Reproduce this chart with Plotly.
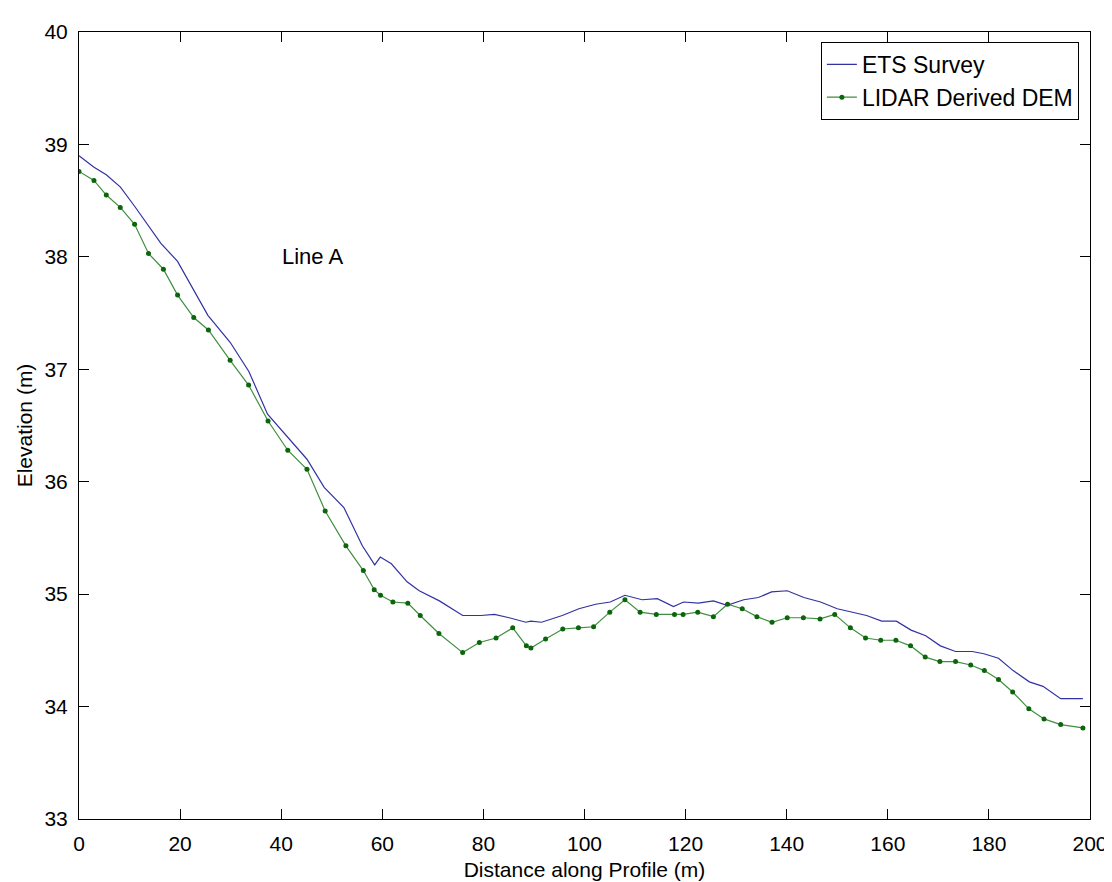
import plotly.graph_objects as go

# ETS Survey (blue line)
ets_x = [0, 2.9, 5.4, 8.2, 11.0, 16.2, 19.5, 22.7, 25.5, 29.9, 33.6, 37.3, 41.3, 45.1, 48.5,
         52.4, 56.05, 58.5, 59.6, 61.8, 64.9, 67.3, 71.3, 75.9, 79.5, 82.2, 85.1, 88.4, 89.4,
         91.5, 95.6, 98.9, 102.2, 105.1, 108.0, 111.4, 114.4, 117.6, 119.6, 122.5, 125.5,
         128.2, 131.5, 134.4, 137.0, 140.1, 143.4, 146.7, 150.0, 152.9, 155.8, 158.8, 161.7,
         164.6, 167.5, 170.4, 173.4, 176.7, 179.0, 181.9, 184.8, 188.0, 190.7, 194.2, 198.6]
ets_y = [38.90, 38.80, 38.73, 38.62, 38.45, 38.12, 37.96, 37.71, 37.48, 37.24, 36.98, 36.60,
         36.39, 36.20, 35.95, 35.77, 35.43, 35.26, 35.33, 35.27, 35.11, 35.03, 34.94, 34.81,
         34.81, 34.82, 34.79, 34.75, 34.76, 34.75, 34.81, 34.87, 34.91, 34.93, 34.99, 34.95,
         34.96, 34.89, 34.93, 34.92, 34.94, 34.90, 34.95, 34.97, 35.02, 35.03, 34.97, 34.93,
         34.87, 34.84, 34.81, 34.76, 34.76, 34.68, 34.63, 34.54, 34.49, 34.49, 34.47, 34.43,
         34.32, 34.22, 34.18, 34.07, 34.07]

# LIDAR Derived DEM (green line with dot markers)
lidar_x = [0, 2.96, 5.4, 8.16, 11.0, 13.75, 16.7, 19.5, 22.7, 25.6, 29.9, 33.55, 37.4, 41.3,
           45.1, 48.7, 52.8, 56.25, 58.4, 59.65, 62.1, 65.05, 67.5, 71.2, 75.9, 79.2, 82.5,
           85.8, 88.5, 89.4, 92.3, 95.7, 98.8, 101.8, 105.0, 108.0, 111.0, 114.2, 117.8,
           119.5, 122.4, 125.5, 128.3, 131.2, 134.1, 137.1, 140.1, 143.3, 146.6, 149.5,
           152.6, 155.6, 158.6, 161.6, 164.5, 167.4, 170.3, 173.4, 176.4, 179.1, 181.9,
           184.7, 187.9, 190.9, 194.2, 198.6]
lidar_y = [38.76, 38.68, 38.55, 38.44, 38.29, 38.03, 37.89, 37.66, 37.46, 37.35, 37.08, 36.86,
           36.54, 36.28, 36.11, 35.74, 35.43, 35.21, 35.04, 34.99, 34.93, 34.92, 34.81, 34.65,
           34.48, 34.57, 34.61, 34.70, 34.54, 34.52, 34.60, 34.69, 34.70, 34.71, 34.84, 34.95,
           34.84, 34.82, 34.82, 34.82, 34.84, 34.80, 34.91, 34.87, 34.80, 34.75, 34.79, 34.79,
           34.78, 34.82, 34.70, 34.61, 34.59, 34.59, 34.54, 34.44, 34.40, 34.40, 34.37, 34.32,
           34.24, 34.13, 33.98, 33.89, 33.84, 33.81]

x_ticks = [0, 20, 40, 60, 80, 100, 120, 140, 160, 180, 200]
y_ticks = [33, 34, 35, 36, 37, 38, 39, 40]

FONT = "Liberation Sans, Arial, Helvetica, sans-serif"

fig = go.Figure()
fig.add_trace(go.Scatter(
    x=ets_x, y=ets_y, mode="lines", name="ETS Survey",
    line=dict(color="#3232a2", width=1.2),
))
fig.add_trace(go.Scatter(
    x=lidar_x, y=lidar_y, mode="lines+markers", name="LIDAR Derived DEM",
    line=dict(color="#3f8f3f", width=1.2),
    marker=dict(color="#0b650b", size=5, symbol="circle"),
))

fig.add_annotation(x=46.2, y=38.0, text="Line A", showarrow=False,
                   font=dict(family=FONT, size=22, color="black"))

axis_common = dict(
    showgrid=False, zeroline=False, showline=True, linecolor="black", linewidth=1,
    mirror="ticks", ticks="inside", ticklen=10, tickcolor="black", tickwidth=1,
    tickfont=dict(family=FONT, size=21, color="black"),
)

fig.update_xaxes(range=[0, 200], tickvals=x_ticks, ticklabelstandoff=6,
                 title=dict(text="Distance along Profile (m)", standoff=8,
                            font=dict(family=FONT, size=21, color="black")),
                 **axis_common)
fig.update_yaxes(range=[33, 40], tickvals=y_ticks, ticklabelstandoff=6,
                 title=dict(text="Elevation (m)", standoff=6,
                            font=dict(family=FONT, size=21, color="black")),
                 **axis_common)

fig.update_layout(
    width=1112, height=882,
    margin=dict(l=71, r=25, t=15, b=66, pad=0),
    paper_bgcolor="white", plot_bgcolor="white",
    font=dict(family=FONT, size=21, color="black"),
    showlegend=True,
    legend=dict(x=0.989, y=0.9875, xanchor="right", yanchor="top",
                bgcolor="white", bordercolor="black", borderwidth=1,
                font=dict(family=FONT, size=23, color="black"),
                itemwidth=30, tracegroupgap=0),
)

fig.write_html("out.html")
